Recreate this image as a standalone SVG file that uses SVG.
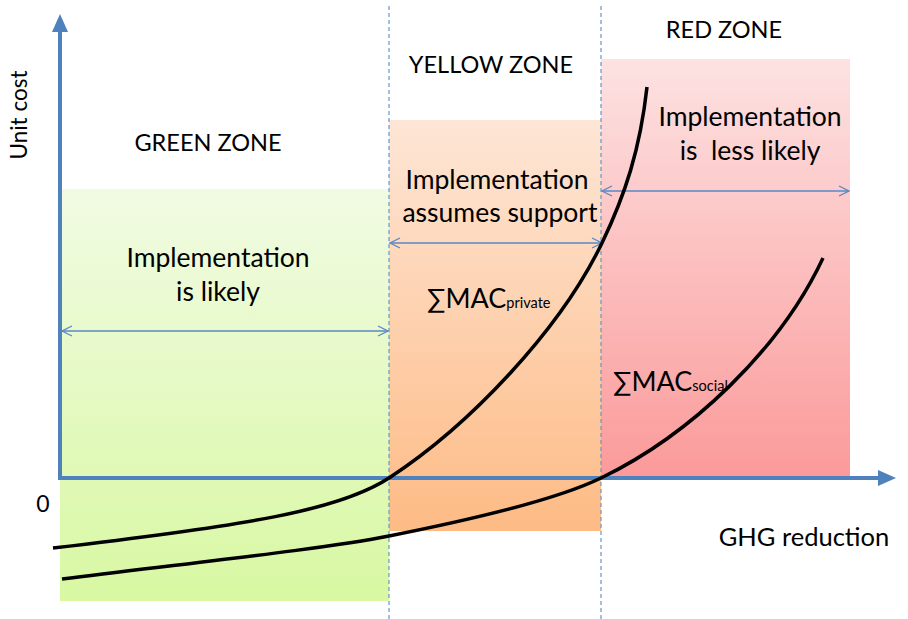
<svg xmlns="http://www.w3.org/2000/svg" width="908" height="619" viewBox="0 0 908 619">
<style>
text{font-family:Lato,"Open Sans","Liberation Sans",sans-serif;fill:#000}
.zone{font-size:23.5px}
.lbl{font-size:26.5px}
.dash{stroke:#6d93c8;stroke-width:1.2;stroke-dasharray:4 3;fill:none}
.span{stroke:#5a87c5;stroke-width:1.3;fill:none;marker-start:url(#open);marker-end:url(#open)}
.curve{stroke:#000;stroke-width:3.5;fill:none}
.axis{stroke:#4f81bd;stroke-width:4;fill:none}
</style>
<defs>
<linearGradient id="gG" x1="0" y1="0" x2="0" y2="1"><stop offset="0" stop-color="#f1fbe3"/><stop offset="1" stop-color="#d8f8a2"/></linearGradient>
<linearGradient id="gY" x1="0" y1="0" x2="0" y2="1"><stop offset="0" stop-color="#fde6d6"/><stop offset="1" stop-color="#fdbb85"/></linearGradient>
<linearGradient id="gR" x1="0" y1="0" x2="0" y2="1"><stop offset="0" stop-color="#fde2e2"/><stop offset="1" stop-color="#fb9a9a"/></linearGradient>
<marker id="open" viewBox="0 0 12 12" refX="11" refY="6" markerWidth="12" markerHeight="12" markerUnits="userSpaceOnUse" orient="auto-start-reverse"><path d="M1,1 L11,6 L1,11" fill="none" stroke="#5a87c5" stroke-width="1.3"/></marker>
</defs>
<g id="zones">
<rect id="green-zone" x="60" y="189" width="329" height="412" fill="url(#gG)"/>
<rect id="yellow-zone" x="389" y="120" width="212" height="411" fill="url(#gY)"/>
<rect id="red-zone" x="601" y="59" width="249" height="418" fill="url(#gR)"/>
</g>
<g id="dividers">
<line class="dash" x1="389" y1="6" x2="389" y2="619"/>
<line class="dash" x1="601" y1="6" x2="601" y2="619"/>
</g>
<g id="axes">
<path class="axis" d="M60,480 L60,30"/>
<path d="M52,32 L60,14 L68,32 Z" fill="#4f81bd"/>
<path class="axis" d="M58,478 L880,478"/>
<path d="M878,470 L896,478 L878,486 Z" fill="#4f81bd"/>
</g>
<g id="connectors">
<line class="span" x1="62" y1="331" x2="388" y2="331"/>
<line class="span" x1="390" y1="243" x2="602" y2="243"/>
<line class="span" x1="602" y1="191" x2="849" y2="191"/>
</g>
<g id="curves">
<path id="mac-private" class="curve" d="M53,548 C250,525 340,510 389,478 C470,425 560,330 602,243 C625,195 640,150 647,87"/>
<path id="mac-social" class="curve" d="M62,579 C200,562 330,548 389,536 C480,518 560,498 601,478 C690,435 780,350 823,258"/>
</g>
<g id="labels">
<text transform="translate(27,115) rotate(-90)" text-anchor="middle" font-size="22.5">Unit cost</text>
<text class="zone" x="208" y="151" text-anchor="middle">GREEN ZONE</text>
<text class="zone" x="491" y="73" text-anchor="middle">YELLOW ZONE</text>
<text class="zone" x="724" y="38" text-anchor="middle">RED ZONE</text>
<text class="lbl" x="218" y="267" text-anchor="middle">Implementation</text>
<text class="lbl" x="218" y="301" text-anchor="middle">is likely</text>
<text class="lbl" x="497" y="189" text-anchor="middle">Implementation</text>
<text class="lbl" x="500" y="222" text-anchor="middle">assumes support</text>
<text class="lbl" x="750" y="126" text-anchor="middle">Implementation</text>
<text class="lbl" x="750" y="160" text-anchor="middle" xml:space="preserve">is  less likely</text>
<text x="427" y="308" font-size="27">∑MAC<tspan font-size="14.5">private</tspan></text>
<text x="613" y="391" font-size="27">∑MAC<tspan font-size="14.5">social</tspan></text>
<text x="43" y="512" text-anchor="middle" font-size="23">0</text>
<text x="804" y="546" text-anchor="middle" font-size="25.5">GHG reduction</text>
</g>
</svg>
